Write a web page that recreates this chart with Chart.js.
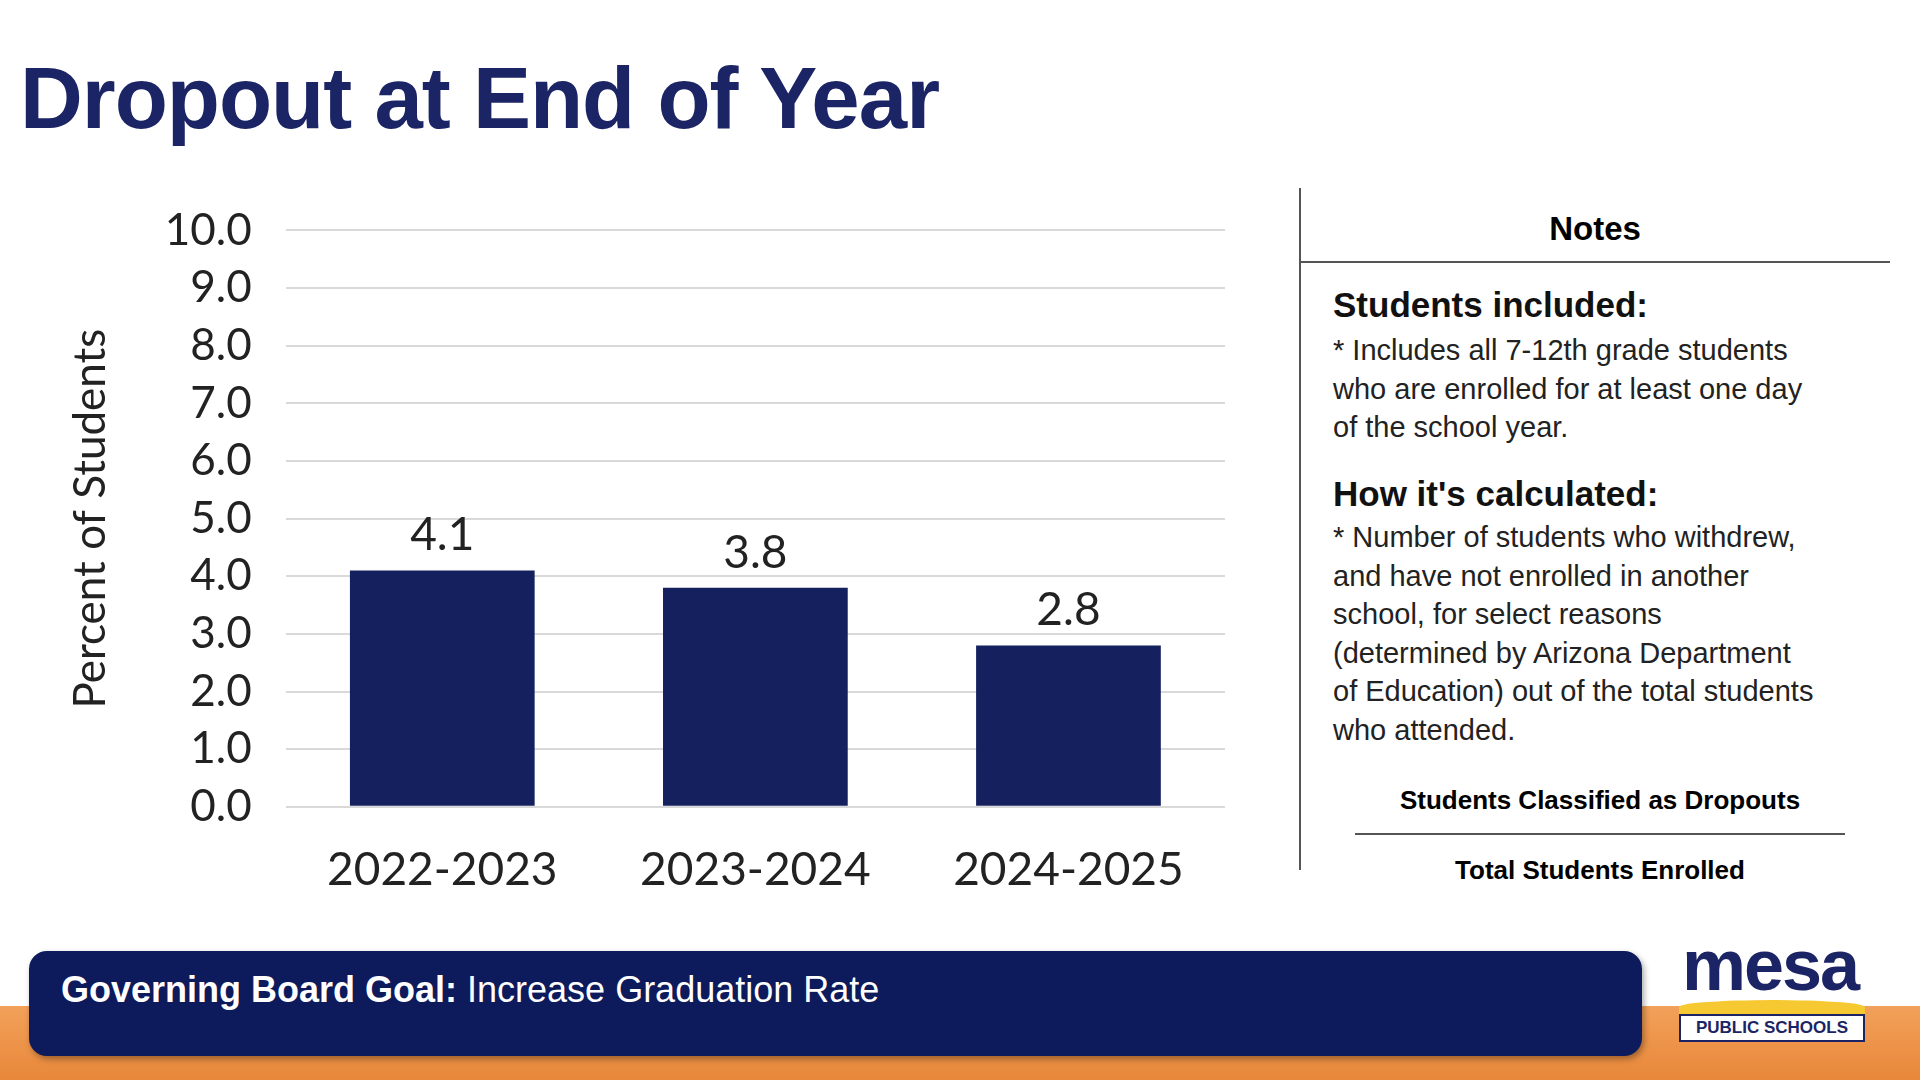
<!DOCTYPE html>
<html>
<head>
<meta charset="utf-8">
<script src="https://cdn.jsdelivr.net/npm/chart.js@4"></script>
<style>
  body { margin: 0; width: 1920px; height: 1080px; background: #fff; position: relative; overflow: hidden; font-family: "Liberation Sans", Arial, sans-serif; }
  #title { position: absolute; left: 20px; top: 48px; font-size: 87px; font-weight: bold; color: #1b2464; letter-spacing: -1px; }
  #chartBox { position: absolute; left: 60px; top: 170px; width: 1180px; height: 756px; }
  #sep { position: absolute; left: 1299px; top: 188px; width: 2px; height: 682px; background: #555; }
  #notesHead { position: absolute; left: 1300px; top: 210px; width: 590px; text-align: center; font-size: 33px; font-weight: bold; }
  #notesLine { position: absolute; left: 1300px; top: 261px; width: 590px; height: 2px; background: #555; }
  .h { position: absolute; left: 1333px; font-size: 35px; font-weight: bold; color: #111; }
  .p { position: absolute; left: 1333px; width: 580px; font-size: 29px; line-height: 38.5px; color: #222; white-space: nowrap; }
  #frac1 { position: absolute; left: 1355px; top: 785px; width: 490px; text-align: center; font-size: 26px; font-weight: bold; }
  #fracLine { position: absolute; left: 1355px; top: 833px; width: 490px; height: 2px; background: #555; }
  #frac2 { position: absolute; left: 1355px; top: 855px; width: 490px; text-align: center; font-size: 26px; font-weight: bold; }
  #orange { position: absolute; left: 0; top: 1006px; width: 1920px; height: 74px; background: linear-gradient(#f2a15a, #e8873a); }
  #goal { position: absolute; left: 29px; top: 951px; width: 1613px; height: 105px; background: #0d1a5c; border-radius: 18px; box-shadow: 2px 3px 6px rgba(0,0,0,0.35); }
  #goal span { position: absolute; left: 32px; top: 18px; color: #fff; font-size: 36px; }
  #logo { position: absolute; left: 1676px; top: 938px; width: 190px; height: 100px; }
  #logo .m { position: absolute; left: 6px; top: -14px; font-size: 72px; font-weight: bold; color: #1b2464; letter-spacing: -2px; }
  #logo .ps { position: absolute; left: 3px; top: 76px; width: 182px; height: 24px; background: #fff; border: 2px solid #1b2464; font-size: 17px; font-weight: bold; color: #1b2464; text-align: center; line-height: 24px; }
  #logo .y { position: absolute; left: 3px; top: 62px; width: 186px; height: 14px; background: #f6c933; border-radius: 50% 50% 0 0; }
</style>
</head>
<body>
<div id="title">Dropout at End of Year</div>
<div id="chartBox"><canvas id="chart"></canvas></div>
<div id="sep"></div>
<div id="notesHead">Notes</div>
<div id="notesLine"></div>
<div class="h" style="top:285px">Students included:</div>
<div class="p" style="top:331px">* Includes all 7-12th grade students<br>who are enrolled for at least one day<br>of the school year.</div>
<div class="h" style="top:474px">How it's calculated:</div>
<div class="p" style="top:518px">* Number of students who withdrew,<br>and have not enrolled in another<br>school, for select reasons<br>(determined by Arizona Department<br>of Education) out of the total students<br>who attended.</div>
<div id="frac1">Students Classified as Dropouts</div>
<div id="fracLine"></div>
<div id="frac2">Total Students Enrolled</div>
<div id="orange"></div>
<div id="goal"><span><b>Governing Board Goal:</b> Increase Graduation Rate</span></div>
<div id="logo"><div class="y"></div><div class="m">mesa</div><div class="ps">PUBLIC SCHOOLS</div></div>
<script>
const years = ["2022-2023", "2023-2024", "2024-2025"];
const dropoutPct = [4.1, 3.8, 2.8];
const yMin = 0, yMax = 10, yStep = 1;

const valueLabels = {
  id: "valueLabels",
  afterDatasetsDraw(chart) {
    const ctx = chart.ctx;
    const meta = chart.getDatasetMeta(0);
    ctx.save();
    ctx.font = "46px Lato, 'Open Sans', sans-serif";
    ctx.fillStyle = "#222";
    ctx.textAlign = "center";
    ctx.textBaseline = "bottom";
    meta.data.forEach((bar, i) => {
      ctx.fillText(dropoutPct[i].toFixed(1), bar.x, bar.y - 12);
    });
    ctx.restore();
  }
};

new Chart(document.getElementById("chart"), {
  type: "bar",
  data: {
    labels: years,
    datasets: [{
      data: dropoutPct,
      backgroundColor: "#14215e",
      barPercentage: 0.59,
      categoryPercentage: 1
    }]
  },
  options: {
    responsive: true,
    maintainAspectRatio: false,
    animation: false,
    layout: { padding: { right: 15, top: 30 } },
    plugins: { legend: { display: false }, tooltip: { enabled: false } },
    scales: {
      y: {
        min: yMin, max: yMax,
        ticks: { stepSize: yStep, autoSkip: false, color: "#222", padding: 34, font: { size: 44, family: "Lato, 'Open Sans', sans-serif" }, callback: v => v.toFixed(1) },
        grid: { color: "#d9d9d9", lineWidth: 2, drawTicks: false },
        border: { display: false },
        title: { display: true, text: "Percent of Students", color: "#222", font: { size: 44, family: "Lato, 'Open Sans', sans-serif" }, padding: { bottom: 14 } }
      },
      x: {
        ticks: { color: "#222", padding: 28, font: { size: 46, family: "Lato, 'Open Sans', sans-serif" } },
        grid: { display: false },
        border: { display: false }
      }
    }
  },
  plugins: [valueLabels]
});
</script>
</body>
</html>
